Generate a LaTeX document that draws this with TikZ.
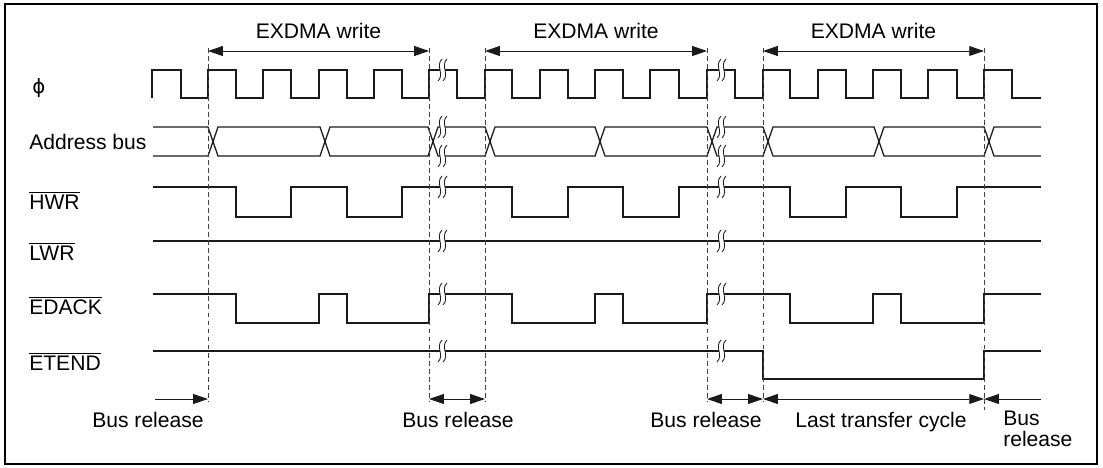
\documentclass[tikz,border=0pt]{standalone}
\usepackage{fontspec}
\setmainfont{Liberation Sans}
\newfontfamily\symfont{DejaVu Sans}
\usetikzlibrary{arrows.meta, positioning}
\definecolor{cline}{HTML}{1A1A1A}
\definecolor{cdash}{HTML}{404040}
\newcommand{\ovl}[1]{$\overline{\mbox{#1}}$}
\tikzset{
  every picture/.style={x=0.025cm, y=-0.025cm, font=\fontsize{15}{15}\selectfont},
  sig/.style={draw=cline, line width=0.9pt},
  guide/.style={draw=cdash, line width=0.6pt, dash pattern=on 3.5pt off 2.2pt},
  span/.style={{Triangle[length=10.5pt,width=7pt]}-{Triangle[length=10.5pt,width=7pt]}, draw=cline, line width=0.7pt},
  toend/.style={-{Triangle[length=10.5pt,width=7pt]}, draw=cline, line width=0.7pt},
  lbl/.style={inner sep=0pt, anchor=base},
  signame/.style={inner sep=0pt, anchor=base west},
  brk/.pic={
    \fill[white] (2,-11) .. controls (-5,-4) and (5,4) .. (-2,11) -- (3,11) .. controls (10,4) and (0,-4) .. (7,-11) -- cycle;
    \draw[cline, line width=0.6pt] (2,-11) .. controls (-5,-4) and (5,4) .. (-2,11);
    \draw[cline, line width=0.6pt] (7,-11) .. controls (0,-4) and (10,4) .. (3,11);
  },
}

\begin{document}
\begin{tikzpicture}
  \useasboundingbox (0,0) rectangle (1103,467);
  \draw[line width=1.5pt] (5,4) rectangle (1097,464);

  % signal names
  \node[signame] (phi)   at (32,93)  {\symfont\fontsize{14}{14}\selectfont ϕ};
  \node[signame] (addr)  at (29,149) {Address bus};
  \node[signame] (hwr)   at (29,209) {\ovl{HWR}};
  \node[signame] (lwr)   at (29,260) {\ovl{LWR}};
  \node[signame] (edack) at (29,314) {\ovl{EDACK}};
  \node[signame] (etend) at (29,370) {\ovl{ETEND}};

  % waveforms
  \draw[sig] (152,98) |- (181,70) |- (208,98) |- (236,70) |- (263,98) |- (291,70) |- (319,98)
    |- (347,70) |- (374,98) |- (402,70) |- (429,98) |- (457,70) |- (485,98) |- (512,70)
    |- (540,98) |- (568,70) |- (595,98) |- (623,70) |- (650,98) |- (679,70) |- (707,98)
    |- (735,70) |- (763,98) |- (790,70) |- (818,98) |- (846,70) |- (873,98) |- (901,70)
    |- (928,98) |- (957,70) |- (984,98) |- (1012,70) |- (1041,98);
  \draw[sig] (153,127) -- (208,127) -- (218,156) -- (320,156) -- (330,127) -- (428,127) -- (438,156)
    -- (485,156) -- (495,127) -- (595,127) -- (605,156) -- (707,156) -- (717,127) -- (763,127)
    -- (773,156) -- (874,156) -- (884,127) -- (984,127) -- (994,156) -- (1041,156);
  \draw[sig] (153,156) -- (208,156) -- (218,127) -- (320,127) -- (330,156) -- (428,156) -- (438,127)
    -- (485,127) -- (495,156) -- (595,156) -- (605,127) -- (707,127) -- (717,156) -- (763,156)
    -- (773,127) -- (874,127) -- (884,156) -- (984,156) -- (994,127) -- (1041,127);
  \draw[sig] (153,187) -| (236,217) -| (291,187) -| (347,217) -| (402,187) -| (512,217) -| (568,187)
    -| (623,217) -| (679,187) -| (790,217) -| (846,187) -| (901,217) -| (957,187) -- (1041,187);
  \draw[sig] (153,241) -- (1041,241);
  \draw[sig] (153,294) -| (236,323) -| (319,294) -| (347,323) -| (429,294) -| (512,323) -| (595,294)
    -| (623,323) -| (707,294) -| (790,323) -| (873,294) -| (901,323) -| (984,294) -- (1041,294);
  \draw[sig] (153,351) -| (763,379) -| (984,351) -- (1041,351);

  % breaks
  \foreach \x in {440,719}
    \foreach \y in {70,127,156,187,241,294,351}
      \pic at (\x,\y) {brk};

  % timing guides
  \foreach \i/\x in {1/208,2/429,3/485,4/707,5/763,6/984} {
    \coordinate (t\i) at (\x,51);
    \coordinate (b\i) at (\x,399);
    \draw[guide] (\x,48) -- (\x,402);
  }
  \draw[guide] (b6) -- (984,410);
  \coordinate (s0) at (155,399);
  \coordinate (s7) at (1041,399);

  \draw[span] (t1) -- (t2);
  \draw[span] (t3) -- (t4);
  \draw[span] (t5) -- (t6);
  \node[lbl] (w1) at (318.5,38) {EXDMA write};
  \node[lbl] (w2) at (596,38)   {EXDMA write};
  \node[lbl] (w3) at (873.5,38) {EXDMA write};

  \draw[toend] (s0) -- (b1);
  \draw[span] (b2) -- (b3);
  \draw[span] (b4) -- (b5);
  \draw[span] (b5) -- (b6);
  \draw[toend] (s7) -- (b6);
  \node[lbl] (r1) at (148,427) {Bus release};
  \node[lbl] (r2) at (458,427) {Bus release};
  \node[lbl] (r3) at (706,427) {Bus release};
  \node[lbl] (last) at (881,427) {Last transfer cycle};
  \node[inner sep=0pt, anchor=north west, align=left] (r4) at (1003,411) {Bus\\release};
\end{tikzpicture}
\end{document}
